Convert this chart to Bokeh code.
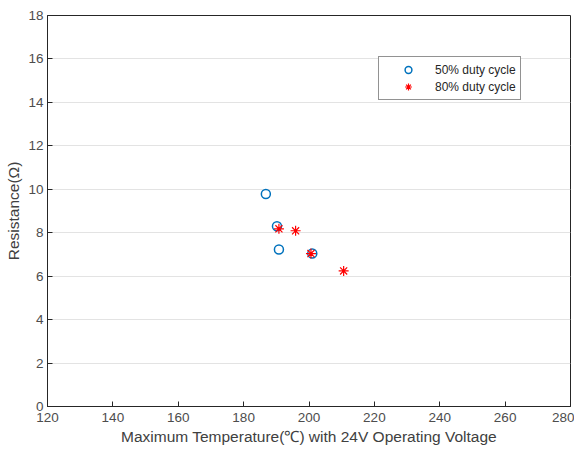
from bokeh.plotting import figure
from bokeh.models import Legend, LegendItem, FixedTicker, Range1d
from bokeh.embed import file_html
from bokeh.resources import INLINE

# Data
temp_50 = [186.8, 190.2, 190.8, 201.0]
res_50 = [9.78, 8.30, 7.23, 7.04]
temp_80 = [190.8, 195.9, 200.6, 210.6]
res_80 = [8.18, 8.09, 7.04, 6.24]
x_ticks = [120, 140, 160, 180, 200, 220, 240, 260, 280]
y_ticks = [0, 2, 4, 6, 8, 10, 12, 14, 16, 18]
labels = ["50% duty cycle", "80% duty cycle"]

FONT = "Liberation Sans"

p = figure(width=574, height=449, output_backend="svg", toolbar_location=None,
           x_range=Range1d(120, 280), y_range=Range1d(0, 18),
           min_border_left=47, min_border_right=4, min_border_top=15, min_border_bottom=43)

r1 = p.scatter(temp_50, res_50, marker="circle", size=9, fill_color=None,
               line_color="#0072BD", line_width=1.5)
r2 = p.scatter(temp_80, res_80, marker="asterisk", size=10,
               line_color="#FF0000", line_width=1.2)

p.xaxis.ticker = FixedTicker(ticks=x_ticks)
p.yaxis.ticker = FixedTicker(ticks=y_ticks)
for ax in (p.xaxis[0], p.yaxis[0]):
    ax.major_tick_in = 5
    ax.major_tick_out = 0
    ax.minor_tick_in = 0
    ax.minor_tick_out = 0
    ax.axis_line_color = "#262626"
    ax.major_tick_line_color = "#262626"
    ax.major_label_text_font = FONT
    ax.major_label_text_font_size = "13.5px"
    ax.major_label_text_color = "#4d4d4d"
    ax.axis_label_text_font = FONT
    ax.axis_label_text_font_size = "15.5px"
    ax.axis_label_text_font_style = "normal"
    ax.axis_label_text_color = "#404040"

p.xaxis.axis_label = "Maximum Temperature(\u2103) with 24V Operating Voltage"
p.yaxis.axis_label = "Resistance(\u03a9)"
p.xaxis.major_label_standoff = 6
p.xaxis.axis_label_standoff = 3
p.yaxis.major_label_standoff = 4
p.yaxis.axis_label_standoff = 3

p.xgrid.grid_line_color = None
p.ygrid.grid_line_color = "#e3e3e3"
p.ygrid.grid_line_width = 1

p.outline_line_color = "#262626"
p.outline_line_alpha = 1
p.outline_line_width = 1
p.background_fill_color = "white"
p.border_fill_color = "white"

legend = Legend(items=[LegendItem(label=labels[0], renderers=[r1]),
                       LegendItem(label=labels[1], renderers=[r2])],
                location=(331, 306))
legend.label_text_font = FONT
legend.label_text_font_size = "12px"
legend.label_text_color = "#262626"
legend.border_line_color = "#262626"
legend.border_line_width = 1
legend.padding = 4
legend.spacing = 0
legend.margin = 0
legend.glyph_width = 50
legend.glyph_height = 17
legend.label_height = 17
legend.label_standoff = 2
legend.background_fill_alpha = 1
p.add_layout(legend, "center")

open("out.html", "w").write(file_html(p, INLINE))
